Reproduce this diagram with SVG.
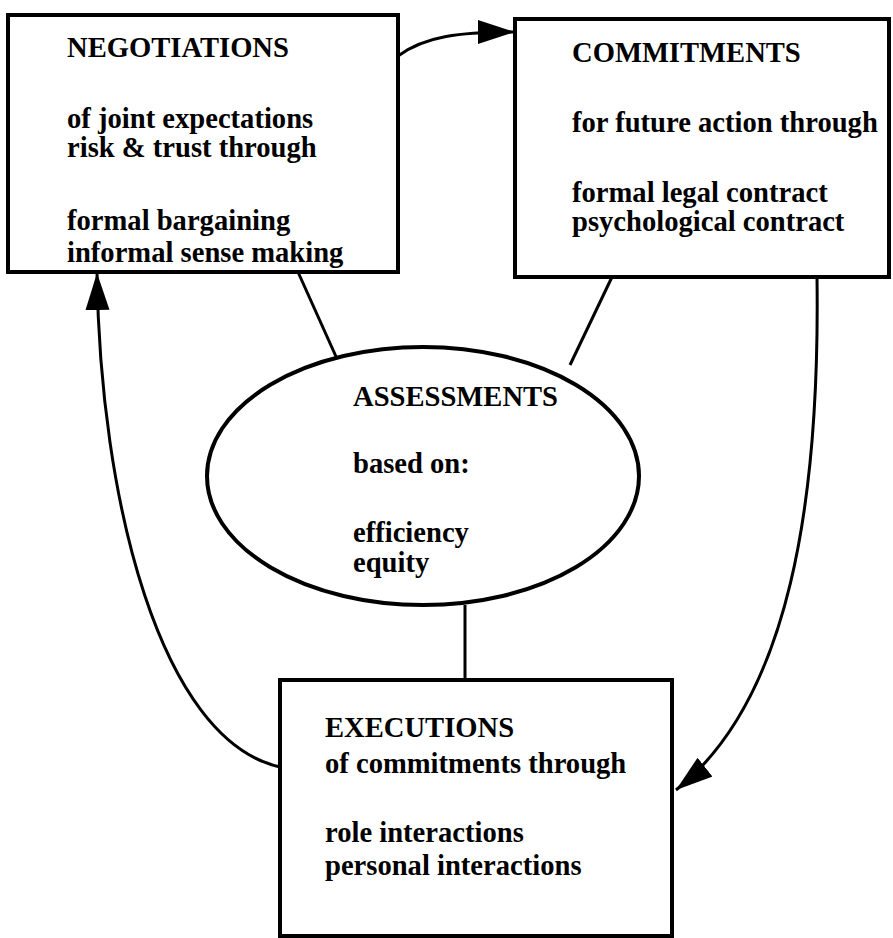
<svg xmlns="http://www.w3.org/2000/svg" width="893" height="938" viewBox="0 0 893 938">
  <style>
    .box { fill: #fff; stroke: #000; stroke-width: 4; }
    .link { fill: none; stroke: #000; stroke-width: 3; }
    .t { font-family: "Liberation Serif", "Times New Roman", serif; font-weight: bold; font-size: 28.6px; fill: #000; }
  </style>
  <defs>
    <marker id="head" markerUnits="userSpaceOnUse" markerWidth="40" markerHeight="26" refX="37" refY="12" orient="auto">
      <path d="M0,0 L37,12 L0,24 z" fill="#000"/>
    </marker>
  </defs>
  <rect width="893" height="938" fill="#fff"/>

  <!-- connectors -->
  <g id="connectors">
    <path class="link" d="M398,56 C425,36 460,32 515,32" marker-end="url(#head)"/>
    <path class="link" d="M280,767 C160,740 100,500 97,273" marker-end="url(#head)"/>
    <path class="link" d="M817,277 C820,500 790,700 676,790" marker-end="url(#head)"/>
    <line class="link" x1="298" y1="272" x2="338" y2="361"/>
    <line class="link" x1="612" y1="277" x2="570" y2="365"/>
    <line class="link" x1="465" y1="605" x2="465" y2="680"/>
  </g>

  <g id="negotiations">
    <rect class="box" x="8" y="15" width="390" height="257"/>
    <text class="t" x="67" y="57">NEGOTIATIONS</text>
    <text class="t" x="67" y="128">of joint expectations</text>
    <text class="t" x="67" y="157">risk &amp; trust through</text>
    <text class="t" x="67" y="230">formal bargaining</text>
    <text class="t" x="67" y="262">informal sense making</text>
  </g>

  <g id="commitments">
    <rect class="box" x="515" y="19" width="374" height="258"/>
    <text class="t" x="572" y="62">COMMITMENTS</text>
    <text class="t" x="572" y="132">for future action through</text>
    <text class="t" x="572" y="202">formal legal contract</text>
    <text class="t" x="572" y="231">psychological contract</text>
  </g>

  <g id="assessments">
    <ellipse class="box" cx="423" cy="476" rx="216" ry="129"/>
    <text class="t" x="353" y="406">ASSESSMENTS</text>
    <text class="t" x="353" y="473">based on:</text>
    <text class="t" x="353" y="542">efficiency</text>
    <text class="t" x="353" y="572">equity</text>
  </g>

  <g id="executions">
    <rect class="box" x="280" y="680" width="392" height="256"/>
    <text class="t" x="325" y="737">EXECUTIONS</text>
    <text class="t" x="325" y="773">of commitments through</text>
    <text class="t" x="325" y="842">role interactions</text>
    <text class="t" x="325" y="875">personal interactions</text>
  </g>
</svg>
